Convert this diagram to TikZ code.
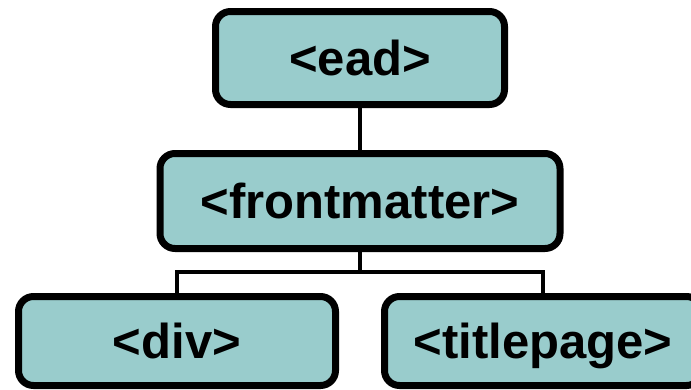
\documentclass[tikz,border=0pt]{standalone}
\usepackage{fontspec}
\setmainfont{Liberation Sans}
\usetikzlibrary{positioning}
\definecolor{color1}{RGB}{153,204,204}

\begin{document}
\begin{tikzpicture}
	[
	x=1pt, y=-1pt,
        elemento/.style={
            rectangle,
            rounded corners=15pt,
            draw=black,
            line width=7pt,
            fill=color1,
            align=center,
            inner sep=0pt,
            text height=35pt,
            text depth=0pt,
            font=\fontsize{49pt}{55pt}\selectfont\bfseries
        },
        rama/.style={
            line width=4.5pt
        }
    ]
    \useasboundingbox (0,0) rectangle (691,389);

    \node(ead) [elemento, minimum width=289pt, minimum height=93pt] at (360,58) {<ead>};
    \node(frontmatter) [elemento, minimum width=400pt, minimum height=95pt] at (360,201) {<frontmatter>};
    \node(div) [elemento, minimum width=317pt, minimum height=89pt] at (177,341) {<div>};
    \node(titlepage) [elemento, minimum width=317pt, minimum height=89pt] at (543,341) {<titlepage>};

    \coordinate(cruce) at (360,272);

    \draw[rama] (ead)--(frontmatter);
    \draw[rama] (frontmatter)--(cruce);
    \draw[rama] (cruce)-|(div);
    \draw[rama] (cruce)-|(titlepage);
\end{tikzpicture}
\end{document}
